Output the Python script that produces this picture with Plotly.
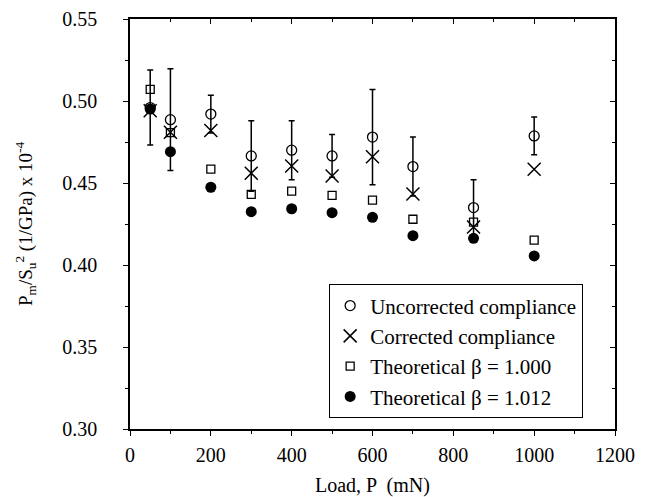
import plotly.graph_objects as go

load = [50, 100, 200, 300, 400, 500, 600, 700, 850, 1000]
uncorrected = [0.496, 0.4886, 0.492, 0.4665, 0.470, 0.4665, 0.478, 0.460, 0.435, 0.4787]
uncorrected_err = [0.0229, 0.031, 0.0115, 0.0215, 0.018, 0.013, 0.029, 0.018, 0.017, 0.0115]
corrected = [0.494, 0.481, 0.482, 0.456, 0.4604, 0.4543, 0.466, 0.4433, 0.4232, 0.4584]
theo_1000 = [0.5071, 0.4807, 0.4584, 0.4431, 0.445, 0.4425, 0.4396, 0.4279, 0.4262, 0.4152]
theo_1012 = [0.4951, 0.4691, 0.4474, 0.4325, 0.4343, 0.4319, 0.4291, 0.4179, 0.4163, 0.4055]

FONT = "Times New Roman, Liberation Serif, DejaVu Serif, serif"
fig = go.Figure()
fig.add_trace(go.Scatter(
    x=load, y=uncorrected, mode="markers", name="Uncorrected compliance",
    marker=dict(symbol="circle-open", size=10, color="black", line=dict(width=1.3, color="black")),
    error_y=dict(type="data", array=uncorrected_err, visible=True, color="black", thickness=1.5, width=3),
))
fig.add_trace(go.Scatter(
    x=load, y=corrected, mode="markers", name="Corrected compliance",
    marker=dict(symbol="x-thin-open", size=13, color="black", line=dict(width=1.5, color="black")),
))
fig.add_trace(go.Scatter(
    x=load, y=theo_1000, mode="markers", name="Theoretical β = 1.000",
    marker=dict(symbol="square-open", size=8, color="black", line=dict(width=1.3, color="black")),
))
fig.add_trace(go.Scatter(
    x=load, y=theo_1012, mode="markers", name="Theoretical β = 1.012",
    marker=dict(symbol="circle", size=11, color="black"),
))

axis_common = dict(showgrid=False, zeroline=False, showline=True, linecolor="black", linewidth=1.5,
                   tickcolor="black", tickwidth=1.3, tickfont=dict(family=FONT, size=20, color="black"))

fig.update_layout(
    width=638, height=489,
    margin=dict(l=122, r=31, t=11, b=68, autoexpand=False),
    paper_bgcolor="white", plot_bgcolor="white",
    font=dict(family=FONT, size=20, color="black"),
    xaxis=dict(range=[0, 1200], tickvals=[0, 200, 400, 600, 800, 1000, 1200], ticks="outside", ticklen=5,
               minor=dict(dtick=100, tick0=0, ticks="outside", ticklen=3, tickcolor="black", tickwidth=1.2),
               ticklabelstandoff=2, **axis_common),
    yaxis=dict(range=[0.30, 0.55], tickvals=[0.30, 0.35, 0.40, 0.45, 0.50, 0.55], tickformat=".2f",
               ticks="outside", ticklen=5,
               minor=dict(dtick=0.025, tick0=0.3, ticks="outside", ticklen=3, tickcolor="black", tickwidth=1.2),
               ticklabelstandoff=22, **axis_common),
    xaxis2=dict(overlaying="x", side="top", anchor="y", range=[0, 1200], tickvals=[0, 200, 400, 600, 800, 1000, 1200],
                ticks="inside", ticklen=5, showticklabels=False,
                minor=dict(dtick=100, tick0=0, ticks="inside", ticklen=3, tickcolor="black", tickwidth=1.2),
                **axis_common),
    yaxis2=dict(overlaying="y", side="right", anchor="x", range=[0.30, 0.55], tickvals=[0.30, 0.35, 0.40, 0.45, 0.50, 0.55],
                ticks="inside", ticklen=5, showticklabels=False,
                minor=dict(dtick=0.025, tick0=0.3, ticks="inside", ticklen=3, tickcolor="black", tickwidth=1.2),
                **axis_common),
    legend=dict(x=0.41, y=0.19, xanchor="left", yanchor="middle", bordercolor="black", borderwidth=1.3,
                bgcolor="white", font=dict(family=FONT, size=21, color="black"), tracegroupgap=0),
    showlegend=True,
    annotations=[
        dict(text="Load, P  (mN)", xref="paper", yref="paper", x=0.5, y=-0.139, showarrow=False,
             xanchor="center", yanchor="middle", font=dict(family=FONT, size=20, color="black")),
        dict(text="P<sub>m</sub>/S<sub>u</sub><sup>2</sup> (1/GPa) x 10<sup>-4</sup>", xref="paper", yref="paper",
             x=-0.2165, y=0.5, showarrow=False, textangle=-90, xanchor="center", yanchor="middle",
             font=dict(family=FONT, size=19, color="black")),
    ],
)
fig.add_trace(go.Scatter(x=[None], y=[None], xaxis="x2", yaxis="y2", showlegend=False, hoverinfo="skip"))

fig.write_html("out.html")
